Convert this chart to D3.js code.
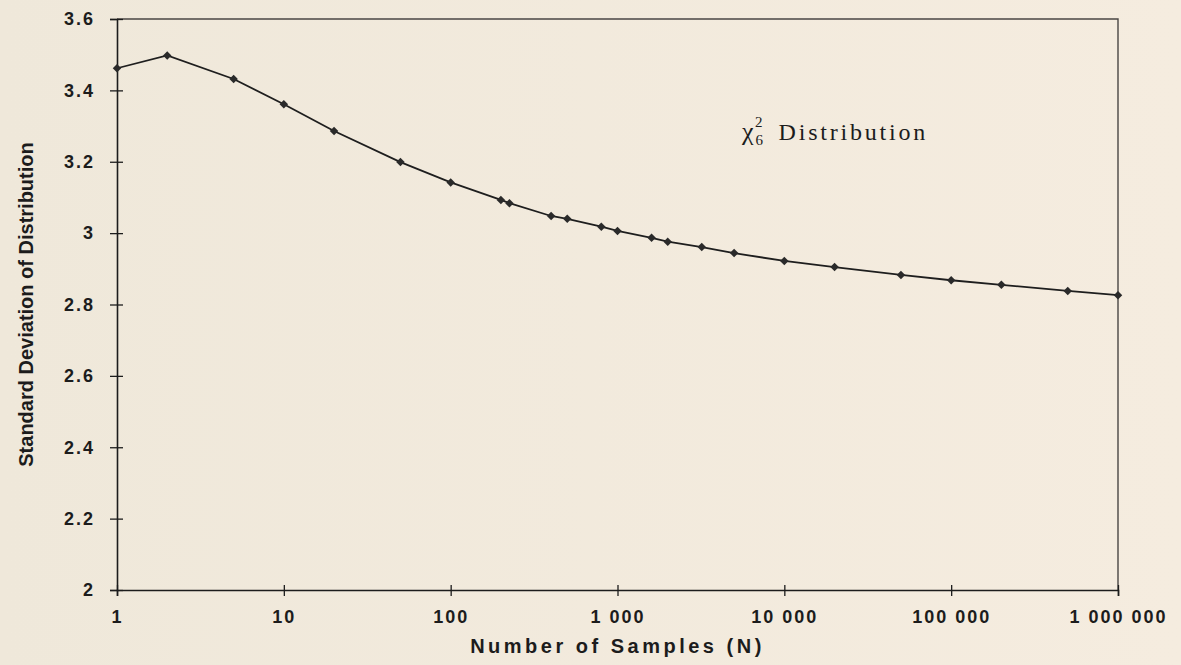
<!DOCTYPE html>
<html>
<head>
<meta charset="utf-8">
<script src="https://cdn.jsdelivr.net/npm/d3@7"></script>
<style>
  html, body { margin: 0; padding: 0; background: #f1e9dc; }
  svg { display: block; }
  text { fill: #1c1c1c; }
</style>
</head>
<body>
<script>
// Sample counts N and the standard deviation of the chi-square (6 d.f.) distribution
const sampleCounts = [1, 2, 5, 10, 20, 50, 100, 200, 225, 400, 500, 800, 1000, 1600, 2000, 3200,
                      5000, 10000, 20000, 50000, 100000, 200000, 500000, 1000000];
const stdDevValues = [3.462, 3.498, 3.432, 3.361, 3.286, 3.199, 3.142, 3.093, 3.084, 3.048, 3.040, 3.018,
                      3.006, 2.987, 2.976, 2.961, 2.944, 2.922, 2.905, 2.883, 2.868, 2.855, 2.838, 2.826];
const xTickValues = [1, 10, 100, 1000, 10000, 100000, 1000000];
const xTickLabels = ["1", "10", "100", "1 000", "10 000", "100 000", "1 000 000"];
const yTickValues = [2, 2.2, 2.4, 2.6, 2.8, 3, 3.2, 3.4, 3.6];
const yTickLabels = ["2", "2.2", "2.4", "2.6", "2.8", "3", "3.2", "3.4", "3.6"];

const W = 1181, H = 665;
const plot = { left: 117, right: 1118, top: 19, bottom: 590 };

const svg = d3.select("body").append("svg").attr("width", W).attr("height", H);

// warm paper background with a faint horizontal gradient
const defs = svg.append("defs");
const grad = defs.append("linearGradient").attr("id", "paper").attr("x1", 0).attr("x2", 1).attr("y1", 0).attr("y2", 0);
grad.append("stop").attr("offset", 0).attr("stop-color", "#efe8da");
grad.append("stop").attr("offset", 1).attr("stop-color", "#f5ecdf");
svg.append("rect").attr("width", W).attr("height", H).attr("fill", "url(#paper)");

const x = d3.scaleLog().domain([1, 1000000]).range([plot.left, plot.right]);
const y = d3.scaleLinear().domain([2, 3.6]).range([plot.bottom, plot.top]);

// frame: top and right edges
svg.append("path")
  .attr("d", `M${plot.left},${plot.top}H${plot.right}V${plot.bottom}`)
  .attr("fill", "none").attr("stroke", "#4a4644").attr("stroke-width", 1.4);

const tickFont = g => g
  .attr("font-family", "Liberation Sans, Arial, sans-serif")
  .attr("font-size", 18).attr("font-weight", "bold")
  .attr("letter-spacing", 2).attr("fill", "#1c1c1c");

// y axis with ticks crossing the axis line
const yAxis = d3.axisLeft(y).tickValues(yTickValues)
  .tickFormat((d, i) => yTickLabels[i]).tickSize(7).tickPadding(15);
const gy = svg.append("g").attr("transform", `translate(${plot.left},0)`).call(yAxis);
gy.select(".domain").attr("stroke", "#1c1c1c").attr("stroke-width", 1.6);
gy.selectAll(".tick line").attr("x2", -7).attr("x1", 6).attr("stroke", "#1c1c1c").attr("stroke-width", 1.3);
gy.selectAll(".tick text").call(tickFont);

// x axis (log scale)
const xAxis = d3.axisBottom(x).tickValues(xTickValues)
  .tickFormat((d, i) => xTickLabels[i]).tickSize(6).tickPadding(14);
const gx = svg.append("g").attr("transform", `translate(0,${plot.bottom})`).call(xAxis);
gx.select(".domain").attr("stroke", "#1c1c1c").attr("stroke-width", 1.6);
gx.selectAll(".tick line").attr("y1", -5).attr("y2", 6).attr("stroke", "#1c1c1c").attr("stroke-width", 1.3);
gx.selectAll(".tick text").call(tickFont);

// axis titles
svg.append("text")
  .attr("x", (plot.left + plot.right) / 2).attr("y", 653)
  .attr("text-anchor", "middle")
  .attr("font-family", "Liberation Sans, Arial, sans-serif")
  .attr("font-size", 20).attr("font-weight", "bold").attr("letter-spacing", 3.5)
  .text("Number of Samples (N)");

svg.append("text")
  .attr("transform", `translate(33,${(plot.top + plot.bottom) / 2}) rotate(-90)`)
  .attr("text-anchor", "middle")
  .attr("font-family", "Liberation Sans, Arial, sans-serif")
  .attr("font-size", 20).attr("font-weight", "bold")
  .text("Standard Deviation of Distribution");

// data line and diamond markers
const pts = sampleCounts.map((n, i) => [n, stdDevValues[i]]);
svg.append("path")
  .datum(pts)
  .attr("d", d3.line().x(d => x(d[0])).y(d => y(d[1])))
  .attr("fill", "none").attr("stroke", "#1e1e1e").attr("stroke-width", 1.8);

const diamond = d3.symbol().type(d3.symbolDiamond2).size(46);
svg.append("g").selectAll("path").data(pts).join("path")
  .attr("transform", d => `translate(${x(d[0])},${y(d[1])})`)
  .attr("d", diamond)
  .attr("fill", "#2a2a2a");

// annotation: chi-square with 6 degrees of freedom
const ann = svg.append("text")
  .attr("x", 742).attr("y", 140)
  .attr("font-family", "Liberation Serif, Times New Roman, serif")
  .attr("font-size", 26).attr("fill", "#1c1c1c");
ann.append("tspan").text("χ");
ann.append("tspan").attr("font-size", 15).attr("dy", 5).attr("dx", 2).text("6");
ann.append("tspan").attr("font-size", 15).attr("dy", -18).attr("dx", -8).text("2");
ann.append("tspan").attr("font-size", 24).attr("dy", 13).attr("dx", 16)
  .attr("letter-spacing", 2.8).text("Distribution");
</script>
</body>
</html>
